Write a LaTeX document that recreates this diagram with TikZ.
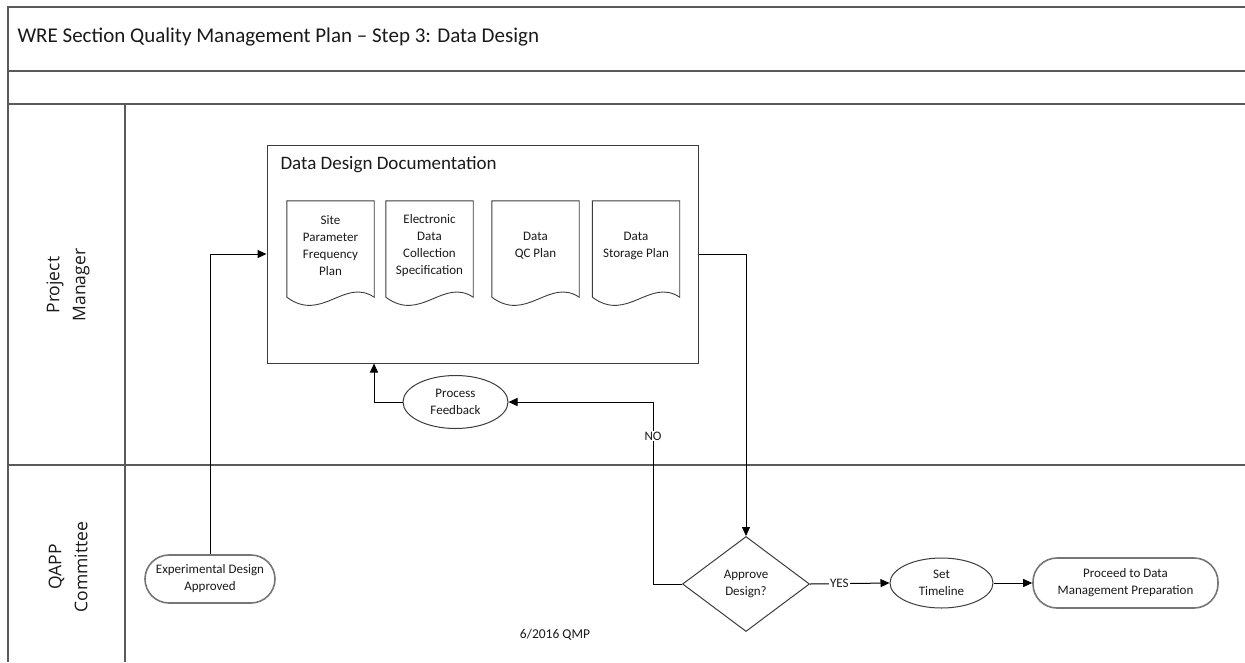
\documentclass[tikz,border=0pt]{standalone}
\usepackage{fontspec}
\setmainfont{Carlito}
\newfontfamily\lanefont{Open Sans}
\usetikzlibrary{arrows.meta,shapes.geometric,calc}

\definecolor{laneline}{HTML}{5A5A5A}
\definecolor{shapeline}{HTML}{3C3C3C}
\definecolor{termline}{HTML}{767676}
\definecolor{inktext}{HTML}{1A1A1A}

\tikzset{
  lane/.style={draw=laneline, line width=1.6pt},
  lanelabel/.style={font=\lanefont\fontsize{17.5}{26}\selectfont, text=inktext, align=center, rotate=90},
  small/.style={font=\fontsize{13}{17}\selectfont, text=inktext, align=center},
  container/.style={draw=shapeline, line width=1pt, minimum width=431pt, minimum height=218pt, inner sep=0pt},
  docnode/.style={small, minimum width=87pt, minimum height=96pt, inner sep=0pt},
  docline/.style={draw=shapeline, line width=0.9pt},
  oval/.style={small, ellipse, draw=shapeline, line width=1pt, inner sep=0pt},
  terminal/.style={small, draw=termline, line width=1.6pt, rounded corners=24pt, inner sep=0pt, minimum height=48pt},
  decision/.style={small, diamond, draw=shapeline, line width=1pt, inner sep=0pt, minimum width=127pt, minimum height=95pt},
  flow/.style={draw=black, line width=1pt, -{Triangle[length=9pt,width=8pt]}},
  onlinelabel/.style={small, fill=white, inner sep=1pt}
}

% document outline with a wavy bottom edge, drawn round a named node
\newcommand\docoutline[1]{%
  \draw[docline] ([yshift=-3pt]#1.north west) -- ([yshift=-3pt]#1.south west)
    .. controls +(35,26) and +(-30,-20) .. ([yshift=-3pt]#1.south east)
    -- ([yshift=-3pt]#1.north east) -- cycle;}

\begin{document}
\begin{tikzpicture}[x=1pt,y=-1pt]
  \useasboundingbox (0,0) rectangle (1245,662);
  \fill[white] (0,0) rectangle (1245,662);

  % pool frame and lanes
  \draw[lane] (1245,7) -- (8,7) -- (8,662);
  \draw[lane] (8,71) -- (1245,71);
  \draw[lane] (8,104) -- (1245,104);
  \draw[lane] (8,465) -- (1245,465);
  \draw[lane] (125,104) -- (125,662);

  \node[anchor=base west, font=\fontsize{21}{24}\selectfont, text=inktext] (title)
    at (14,42) {WRE Section Quality Management Plan -- Step 3: Data Design};

  \node[lanelabel] (pm) at (68,285) {Project\\Manager};
  \node[lanelabel] (qapp) at (68,567) {QAPP\\Committee};

  % documentation container
  \node[container] (ddd) at (482.5,254) {};
  \node[anchor=west, font=\fontsize{19}{22}\selectfont, text=inktext] (dddtitle)
    at (277,165) {Data Design Documentation};

  \node[docnode] (d1) at (330.5,246) {Site\\Parameter\\Frequency\\Plan};
  \node[docnode] (d2) at (429.5,246) {Electronic\\Data\\Collection\\Specification};
  \node[docnode] (d3) at (535.5,246) {Data\\QC Plan};
  \node[docnode] (d4) at (636,246) {Data\\Storage Plan};
  \docoutline{d1}
  \docoutline{d2}
  \docoutline{d3}
  \docoutline{d4}

  % process shapes
  \node[oval, minimum width=105pt, minimum height=53pt] (pf) at (455.5,402) {Process\\Feedback};
  \node[terminal, minimum width=130pt] (exp) at (210,579) {Experimental Design\\Approved};
  \node[decision] (dec) at (746,584) {Approve\\Design?};
  \node[oval, minimum width=103pt, minimum height=50pt] (st) at (941.5,583) {Set\\Timeline};
  \node[terminal, minimum width=185pt, minimum height=50pt] (proc) at (1125.5,583)
    {Proceed to Data\\Management Preparation};

  \node[small, font=\fontsize{13.5}{17}\selectfont] (footer) at (555,635) {6/2016 QMP};

  % connectors
  \coordinate (fbx) at (374,0);
  \coordinate (nox) at (653,0);
  \draw[flow] (exp.north) |- (ddd.west);
  \draw[flow] (ddd.east) -| (dec.north);
  \draw[flow] (dec.west) -| (nox |- pf.east) -- (pf.east);
  \draw[flow] (pf.west) -| (fbx |- ddd.south);
  \node[onlinelabel] (no) at (nox |- 0,436) {NO};
  \draw[flow] (dec.east) -- node[onlinelabel, pos=0.37] (yes) {YES} (st.west);
  \draw[flow] (st.east) -- (proc.west);
\end{tikzpicture}
\end{document}
